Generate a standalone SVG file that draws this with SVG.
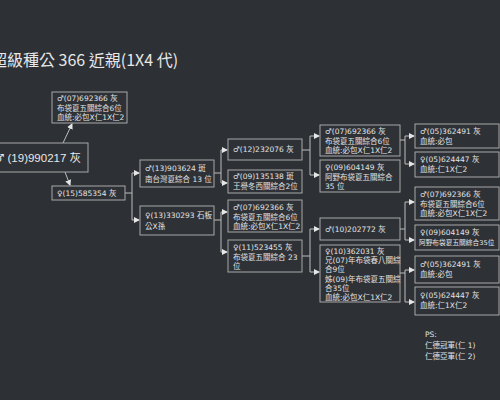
<svg xmlns="http://www.w3.org/2000/svg" width="500" height="400" viewBox="0 0 500 400">
<defs>
<marker id="ah" markerWidth="6" markerHeight="6" refX="5" refY="3" orient="auto" markerUnits="userSpaceOnUse">
<path d="M0,0 L6,3 L0,6 Z" fill="#e6e6e6"/>
</marker>
<style>
.bx{fill:#2e3136;stroke:#a8a8a8;stroke-width:1}
.t{font-family:"DejaVu Sans","Noto Sans CJK TC",sans-serif;font-size:7.5px;fill:#e4e4e4}
.c{fill:none;stroke:#bdbdbd;stroke-width:1;marker-end:url(#ah)}
.cl{fill:none;stroke:#bdbdbd;stroke-width:1}
</style>
</defs>
<rect width="500" height="400" fill="#2d3035"/>
<text x="-9" y="66" font-family="'Noto Sans CJK TC','Noto Sans',sans-serif" font-size="16" fill="#e8e8e8">超級種公 366 近親(1X4 代)</text>

<g id="connectors">
<path class="c" d="M63,143 L72,124"/>
<path class="c" d="M65,172 L70,185"/>
<path class="cl" d="M125,193 H132 V173"/>
<path class="c" d="M132,173 H139"/>
<path class="c" d="M132,193 V220 H139"/>
<path class="cl" d="M214,173 H221"/>
<path class="c" d="M221,173 V150 H227"/>
<path class="c" d="M221,173 V183 H227"/>
<path class="cl" d="M214,220 H221"/>
<path class="c" d="M221,220 V212 H227"/>
<path class="c" d="M221,220 V252 H227"/>
<path class="cl" d="M302,150 H310"/>
<path class="c" d="M310,150 V136 H319"/>
<path class="c" d="M310,150 V175 H319"/>
<path class="cl" d="M302,256 H310"/>
<path class="c" d="M310,256 V229 H319"/>
<path class="c" d="M310,256 V272 H319"/>
<path class="cl" d="M400,140 H405"/>
<path class="c" d="M405,140 V136 H414"/>
<path class="c" d="M405,140 V164 H414"/>
<path class="cl" d="M400,229 H405"/>
<path class="c" d="M405,229 V202 H414"/>
<path class="c" d="M405,229 V240 H414"/>
<path class="cl" d="M400,273 H405"/>
<path class="c" d="M405,273 V270 H414"/>
<path class="c" d="M405,273 V302 H414"/>
</g>

<g id="root"><rect class="bx" x="-5" y="143" width="93" height="29"/><text x="-6" y="162" font-family="'Liberation Sans','Noto Sans CJK TC',sans-serif" font-size="11.5" fill="#e8e8e8"><tspan font-family="'DejaVu Sans',sans-serif">♂</tspan> (19)990217 灰</text></g>

<g id="nA"><rect class="bx" x="52" y="92" width="75" height="31"/><text class="t" x="57" y="101">♂(07)692366 灰</text><text class="t" x="57" y="110.5">布袋夏五關綜合6位</text><text class="t" x="57" y="120">血統:必包X仁1X仁2</text></g>
<g id="nB"><rect class="bx" x="52" y="186" width="73" height="14"/><text class="t" x="57" y="196">♀(15)585354 灰</text></g>

<g id="nC"><rect class="bx" x="140" y="160" width="74" height="27"/><text class="t" x="145" y="171">♂(13)903624 斑</text><text class="t" x="145" y="182">南台灣夏綜合 13 位</text></g>
<g id="nD"><rect class="bx" x="140" y="206" width="74" height="29"/><text class="t" x="145" y="218">♀(13)330293 石板</text><text class="t" x="145" y="229">公X孫</text></g>

<g id="nE"><rect class="bx" x="228" y="139" width="74" height="21"/><text class="t" x="233" y="152">♂(12)232076 灰</text></g>
<g id="nF"><rect class="bx" x="228" y="170" width="74" height="23"/><text class="t" x="233" y="179">♂(09)135138 斑</text><text class="t" x="233" y="189">王譽冬西關綜合2位</text></g>
<g id="nG"><rect class="bx" x="228" y="200" width="74" height="32"/><text class="t" x="233" y="210">♂(07)692366 灰</text><text class="t" x="233" y="219.5">布袋夏五關綜合6位</text><text class="t" x="233" y="229">血統:必包X仁1X仁2</text></g>
<g id="nH"><rect class="bx" x="228" y="240" width="74" height="32"/><text class="t" x="233" y="250">♀(11)523455 灰</text><text class="t" x="233" y="259.5">布袋夏五關綜合 23</text><text class="t" x="233" y="269">位</text></g>

<g id="nI"><rect class="bx" x="320" y="125" width="80" height="31"/><text class="t" x="325" y="134">♂(07)692366 灰</text><text class="t" x="325" y="143.5">布袋夏五關綜合6位</text><text class="t" x="325" y="153">血統:必包X仁1X仁2</text></g>
<g id="nJ"><rect class="bx" x="320" y="160" width="80" height="32"/><text class="t" x="325" y="170">♀(09)604149 灰</text><text class="t" x="325" y="179.5">阿野布袋夏五關綜合</text><text class="t" x="325" y="189">35 位</text></g>
<g id="nK"><rect class="bx" x="320" y="218" width="80" height="22"/><text class="t" x="325" y="232">♂(10)202772 灰</text></g>
<g id="nL"><rect class="bx" x="320" y="245" width="80" height="57"/><text class="t" x="325" y="254">♀(10)362031 灰</text><text class="t" x="325" y="263.2">兄(07)年布袋春八關綜</text><text class="t" x="325" y="272.4">合9位</text><text class="t" x="325" y="281.6">姊(09)年布袋夏五關綜</text><text class="t" x="325" y="290.8">合35位</text><text class="t" x="325" y="300">血統:必包X仁1X仁2</text></g>

<g id="nM"><rect class="bx" x="415" y="124" width="84" height="24"/><text class="t" x="420" y="134">♂(05)362491 灰</text><text class="t" x="420" y="144">血統:必包</text></g>
<g id="nN"><rect class="bx" x="415" y="152" width="84" height="25"/><text class="t" x="420" y="162">♀(05)624447 灰</text><text class="t" x="420" y="172">血統:仁1X仁2</text></g>
<g id="nO"><rect class="bx" x="415" y="187" width="84" height="33"/><text class="t" x="420" y="197">♂(07)692366 灰</text><text class="t" x="420" y="206.5">布袋夏五關綜合6位</text><text class="t" x="420" y="216">血統:必包X仁1X仁2</text></g>
<g id="nP"><rect class="bx" x="415" y="225" width="84" height="25"/><text class="t" x="420" y="235">♀(09)604149 灰</text><text class="t" x="419" y="245" style="font-size:6.7px">阿野布袋夏五關綜合35位</text></g>
<g id="nQ"><rect class="bx" x="415" y="256" width="84" height="27"/><text class="t" x="420" y="267">♂(05)362491 灰</text><text class="t" x="420" y="277">血統:必包</text></g>
<g id="nR"><rect class="bx" x="415" y="287" width="84" height="28"/><text class="t" x="420" y="298">♀(05)624447 灰</text><text class="t" x="420" y="308">血統:仁1X仁2</text></g>

<g id="ps"><text class="t" x="425" y="337">PS:</text><text class="t" x="425" y="348">仁德冠軍(仁 1)</text><text class="t" x="425" y="359">仁德亞軍(仁 2)</text></g>
</svg>
